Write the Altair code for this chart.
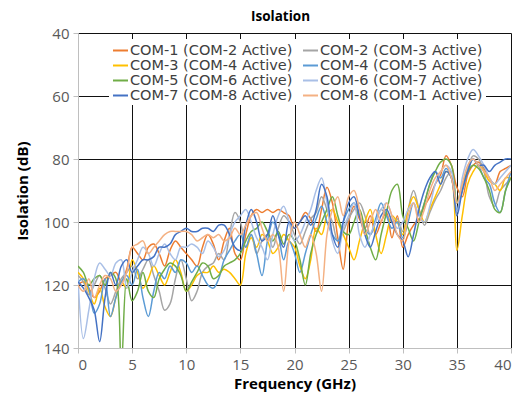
import altair as alt
import pandas as pd

freq = [i * 0.5 for i in range(81)]

series_names = [
    "COM-1 (COM-2 Active)", "COM-2 (COM-3 Active)",
    "COM-3 (COM-4 Active)", "COM-4 (COM-5 Active)",
    "COM-5 (COM-6 Active)", "COM-6 (COM-7 Active)",
    "COM-7 (COM-8 Active)", "COM-8 (COM-1 Active)",
]
colors = ["#ED7D31", "#A5A5A5", "#FFC000", "#5B9BD5",
          "#70AD47", "#A9BFE6", "#4472C4", "#F4B183"]

com1 = [120, 119, 121, 124, 122, 118, 117, 116, 119, 115,
        108, 110, 112, 108, 107, 110, 114, 109, 106, 108,
        110, 112, 114, 108, 104, 107, 112, 106, 102, 110,
        112, 104, 98, 96, 97, 96, 97, 96, 97, 98,
        102, 100, 97, 99, 103, 96, 89, 94, 105, 115,
        100, 95, 99, 102, 98, 104, 100, 97, 105, 98,
        108, 104, 101, 99, 95, 92, 88, 85, 79, 82,
        89, 92, 85, 82, 81, 83, 86, 88, 84, 83,
        82]
com2 = [117, 119, 123, 120, 117, 121, 126, 122, 118, 116,
        114, 118, 115, 112, 117, 122, 128, 126, 118, 112,
        118, 125, 122, 116, 114, 113, 110, 112, 104, 97,
        100, 108, 104, 110, 106, 104, 108, 102, 98, 100,
        104, 107, 103, 99, 97, 92, 96, 100, 106, 103,
        99, 96, 94, 98, 104, 100, 96, 98, 100, 99,
        103, 96, 90, 96, 101, 97, 93, 90, 86, 84,
        94, 90, 83, 79, 80, 84, 92, 95, 90, 88,
        86]
com3 = [116, 118, 122, 126, 121, 127, 130, 124, 119, 121,
        112, 116, 121, 118, 114, 117, 120, 116, 112, 116,
        122, 120, 117, 116, 116, 114, 116, 115, 116, 118,
        120, 110, 105, 108, 104, 106, 110, 108, 104, 106,
        108, 114, 118, 112, 102, 104, 98, 96, 100, 104,
        108, 112, 106, 100, 96, 104, 110, 104, 98, 100,
        104, 96, 92, 96, 100, 96, 92, 88, 84, 86,
        109, 98, 88, 84, 82, 84, 87, 88, 90, 86,
        86]
com4 = [119, 118, 121, 129, 126, 118, 130, 124, 119, 117,
        120, 115, 124, 130, 122, 116, 118, 114, 116, 112,
        113, 116, 114, 117, 120, 121, 118, 112, 109, 106,
        104, 108, 104, 110, 117, 106, 100, 104, 112, 106,
        110, 116, 110, 104, 99, 95, 100, 104, 106, 100,
        96, 94, 98, 102, 104, 99, 94, 98, 102, 100,
        105, 100, 94, 98, 94, 88, 84, 86, 83, 86,
        96, 90, 84, 80, 82, 86, 88, 94, 97, 90,
        84]
com5 = [114, 116, 120, 118, 117, 120, 116, 118, 146, 118,
        125, 122, 116, 122, 124, 118, 115, 113, 114, 117,
        122, 119, 116, 113, 114, 118, 117, 114, 113, 112,
        110, 106, 103, 102, 100, 103, 106, 103, 107, 104,
        106, 112, 120, 110, 104, 100, 96, 92, 98, 103,
        104, 100, 96, 102, 108, 112, 104, 97, 90, 88,
        98, 102, 106, 100, 94, 88, 84, 81, 80, 82,
        94, 88, 84, 82, 83, 86, 90, 96, 97, 90,
        86]
com6 = [118, 137, 128, 118, 113, 115, 117, 113, 112, 121,
        116, 112, 108, 110, 114, 110, 107, 110, 112, 108,
        108, 107, 108, 110, 106, 108, 111, 109, 104, 100,
        98, 96, 100, 105, 108, 112, 104, 98, 95, 100,
        106, 104, 100, 96, 90, 86, 94, 106, 110, 102,
        98, 94, 104, 108, 104, 100, 96, 94, 98, 102,
        100, 96, 94, 98, 100, 95, 88, 84, 82, 84,
        97, 86, 80, 77, 79, 82, 86, 88, 86, 84,
        82]
com7 = [119, 121, 124, 128, 138, 124, 116, 120, 114, 112,
        116, 114, 112, 112, 111, 108, 108, 107, 104, 103,
        102, 103, 103, 102, 102, 103, 101, 101, 104, 108,
        109, 101, 96, 100, 106, 104, 98, 104, 108, 100,
        102, 100, 98, 101, 96, 88, 92, 104, 108, 100,
        94, 92, 98, 104, 108, 103, 98, 96, 100, 104,
        106, 111, 104, 96, 90, 86, 84, 88, 84, 86,
        98, 90, 84, 80, 82, 82, 84, 82, 81, 80,
        80]
com8 = [120, 122, 118, 124, 120, 117, 118, 122, 120, 116,
        108, 107, 106, 110, 108, 106, 104, 103, 103, 103,
        103, 104, 106, 105, 104, 105, 104, 106, 105, 102,
        104, 101, 98, 97, 102, 106, 104, 108, 122, 106,
        100, 104, 108, 104, 110, 122, 104, 96, 92, 98,
        92, 90, 96, 104, 100, 96, 100, 94, 98, 104,
        106, 98, 94, 100, 96, 90, 86, 84, 82, 86,
        94, 88, 82, 80, 82, 84, 86, 90, 88, 86,
        84]

all_series = [com1, com2, com3, com4, com5, com6, com7, com8]

rows = []
for name, vals in zip(series_names, all_series):
    for f, v in zip(freq, vals):
        rows.append({"Frequency": f, "Isolation": v, "Series": name})
df = pd.DataFrame(rows)

# legend fills column-first: order entries so rows read COM-1/COM-2, COM-3/COM-4 ...
legend_order = [0, 2, 4, 6, 1, 3, 5, 7]
dom = [series_names[i] for i in legend_order]
rng = [colors[i] for i in legend_order]

FONT = "Open Sans"
LFONT = "DejaVu Sans"

chart = alt.Chart(df).mark_line(
    interpolate="catmull-rom", strokeWidth=1.5, clip=True
).encode(
    x=alt.X("Frequency:Q", title="Frequency (GHz)",
            scale=alt.Scale(domain=[0, 40], nice=False),
            axis=alt.Axis(values=[0, 5, 10, 15, 20, 25, 30, 35, 40],
                          gridColor={"condition": {"test": "datum.value == 0", "value": "#d0d0d0"}, "value": "#111111"})),
    y=alt.Y("Isolation:Q", title="Isolation (dB)",
            scale=alt.Scale(domain=[40, 140], reverse=True, nice=False, zero=False),
            axis=alt.Axis(values=[40, 60, 80, 100, 120, 140],
                          gridColor={"condition": {"test": "datum.value == 140", "value": "#d0d0d0"}, "value": "#111111"})),
    color=alt.Color("Series:N", scale=alt.Scale(domain=dom, range=rng),
                    legend=alt.Legend(
                        title=None, orient="none", legendX=31, legendY=6,
                        columns=2, symbolType="stroke", symbolStrokeWidth=2,
                        symbolSize=225, labelFontSize=14.5, labelFont=LFONT,
                        labelColor="#404040", labelLimit=300, columnPadding=6,
                        rowPadding=0, fillColor="white", padding=3,
                        labelOffset=1)),
).properties(
    width=433, height=315,
    title=alt.TitleParams("Isolation", fontSize=13.5, fontWeight="bold", font=FONT,
                          anchor="middle", dx=-14, offset=3, color="#000000"),
    autosize=alt.AutoSizeParams(type="none"),
    padding={"left": 70, "top": 25, "right": 11, "bottom": 48},
).configure_axis(
    labelFont=FONT, labelFontSize=15, labelColor="#595959",
    titleFont=FONT, titleFontSize=15, titleFontWeight="bold", titleColor="#000000",
    domainColor="#bfbfbf", tickColor="#bfbfbf", tickSize=5,
    gridWidth=1, gridOpacity=1,
).configure_axisY(
    labelPadding=4, titlePadding=13,
).configure_axisX(
    labelPadding=4, titlePadding=4,
).configure_view(stroke=None)

chart.save("out.html", embed_options={"renderer": "svg", "actions": False})
